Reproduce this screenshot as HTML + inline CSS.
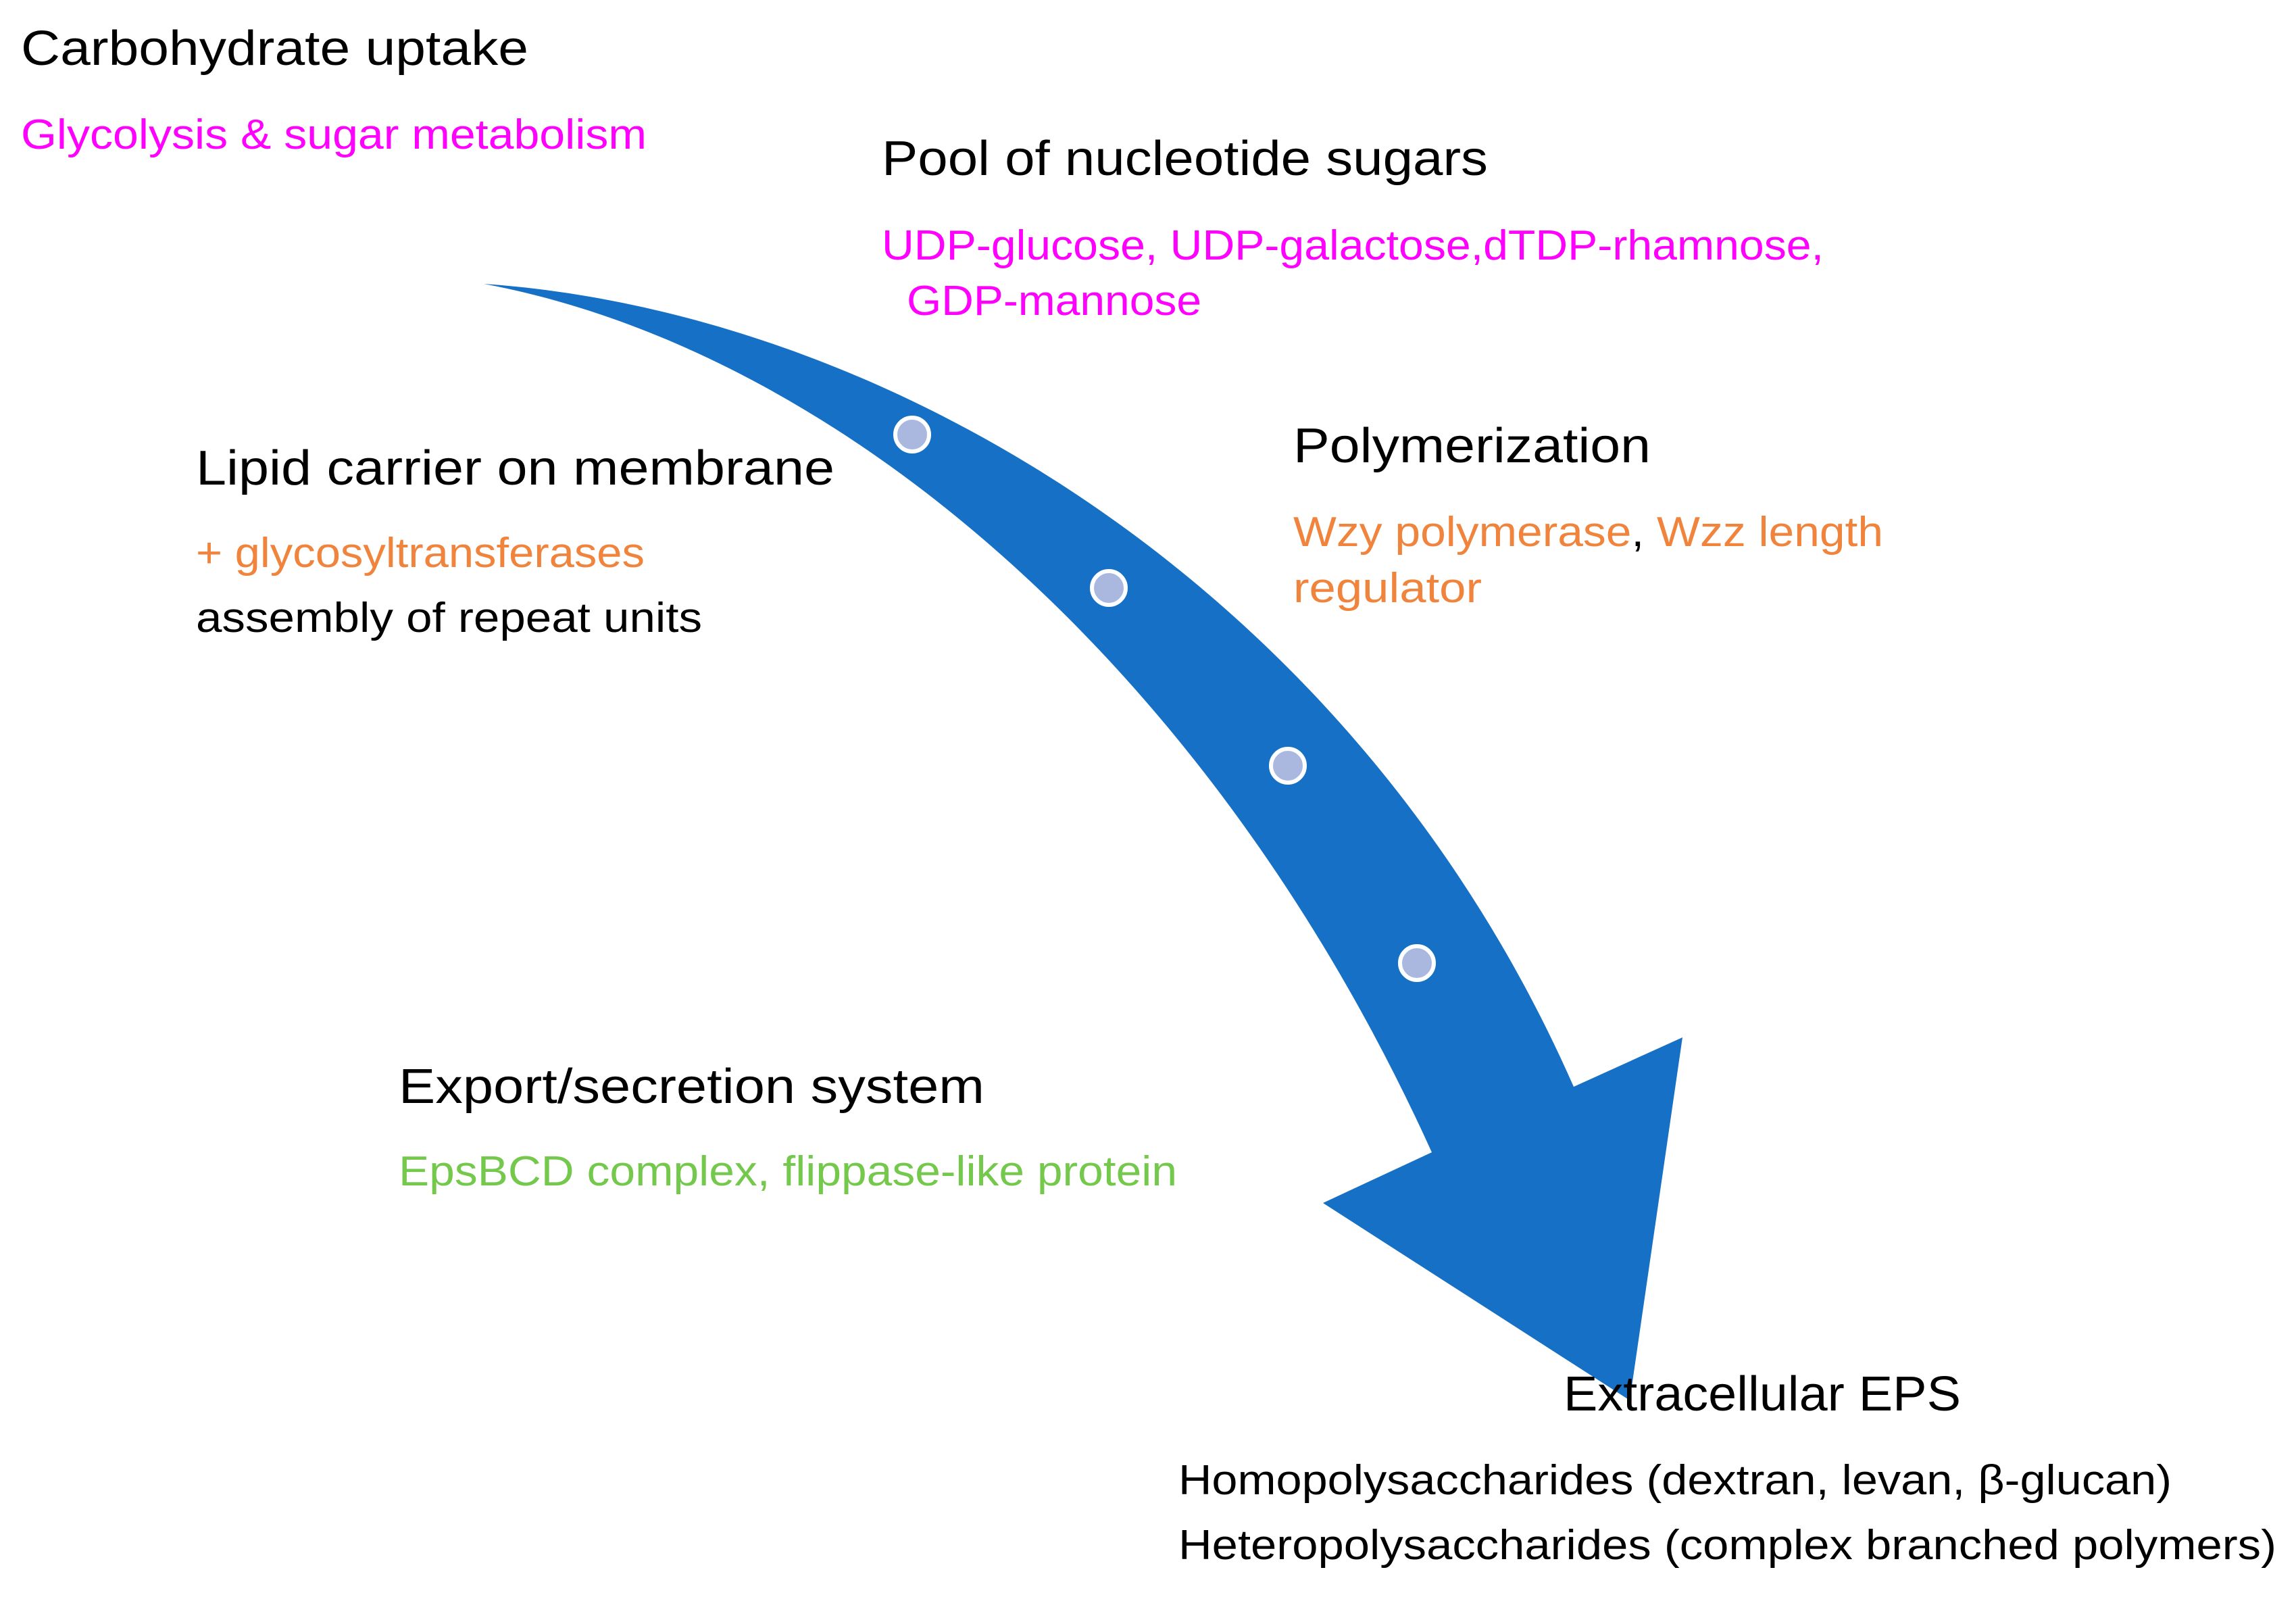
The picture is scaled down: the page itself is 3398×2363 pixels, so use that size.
<!DOCTYPE html>
<html><head><meta charset="utf-8"><style>
html,body{margin:0;padding:0;background:#fff;}
svg{display:block;}
text{font-family:"Liberation Sans",sans-serif;}
.t{font-size:72px;fill:#000;}
.s{font-size:62px;}
</style></head><body>
<svg width="3398" height="2363" viewBox="0 0 3398 2363" xmlns="http://www.w3.org/2000/svg">
<rect width="3398" height="2363" fill="#fff"/>
<path d="M716,420 C1300,460 2000,860 2329,1608 L2490,1535 L2412,2072 L1958,1780 L2119,1705 C1800,1000 1250,520 716,420 Z" fill="#1570c6"/>
<g fill="#aab8e0" stroke="#fff" stroke-width="6">
<circle cx="1350" cy="643" r="25"/>
<circle cx="1641" cy="870" r="25"/>
<circle cx="1906" cy="1133" r="25"/>
<circle cx="2097" cy="1425" r="25"/>
</g>
<text class="t" x="31" y="96" textLength="751" lengthAdjust="spacingAndGlyphs">Carbohydrate uptake</text>
<text class="s" x="31" y="220" fill="#ff00ff" textLength="926" lengthAdjust="spacingAndGlyphs">Glycolysis &amp; sugar metabolism</text>
<text class="t" x="1305" y="259" textLength="897" lengthAdjust="spacingAndGlyphs">Pool of nucleotide sugars</text>
<text class="s" x="1305" y="384" fill="#ff00ff" textLength="1394" lengthAdjust="spacingAndGlyphs">UDP-glucose, UDP-galactose,dTDP-rhamnose,</text>
<text class="s" x="1342" y="466" fill="#ff00ff" textLength="436" lengthAdjust="spacingAndGlyphs">GDP-mannose</text>
<text class="t" x="290" y="717" textLength="945" lengthAdjust="spacingAndGlyphs">Lipid carrier on membrane</text>
<text class="s" x="290" y="839" fill="#f0843c" textLength="664" lengthAdjust="spacingAndGlyphs">+ glycosyltransferases</text>
<text class="s" x="290" y="935" fill="#000" textLength="749" lengthAdjust="spacingAndGlyphs">assembly of repeat units</text>
<text class="t" x="1914" y="684" textLength="529" lengthAdjust="spacingAndGlyphs">Polymerization</text>
<text class="s" x="1914" y="808" fill="#f0843c" textLength="873" lengthAdjust="spacingAndGlyphs">Wzy polymerase<tspan fill="#000">,</tspan> Wzz length</text>
<text class="s" x="1914" y="891" fill="#f0843c" textLength="279" lengthAdjust="spacingAndGlyphs">regulator</text>
<text class="t" x="590" y="1632" textLength="867" lengthAdjust="spacingAndGlyphs">Export/secretion system</text>
<text class="s" x="590" y="1754" fill="#74c84c" textLength="1152" lengthAdjust="spacingAndGlyphs">EpsBCD complex, flippase-like protein</text>
<text class="t" x="2314" y="2087" textLength="588" lengthAdjust="spacingAndGlyphs">Extracellular EPS</text>
<text class="s" x="1744" y="2211" fill="#000" textLength="1470" lengthAdjust="spacingAndGlyphs">Homopolysaccharides (dextran, levan, β-glucan)</text>
<text class="s" x="1744" y="2307" fill="#000" textLength="1625" lengthAdjust="spacingAndGlyphs">Heteropolysaccharides (complex branched polymers)</text>
</svg>
</body></html>
